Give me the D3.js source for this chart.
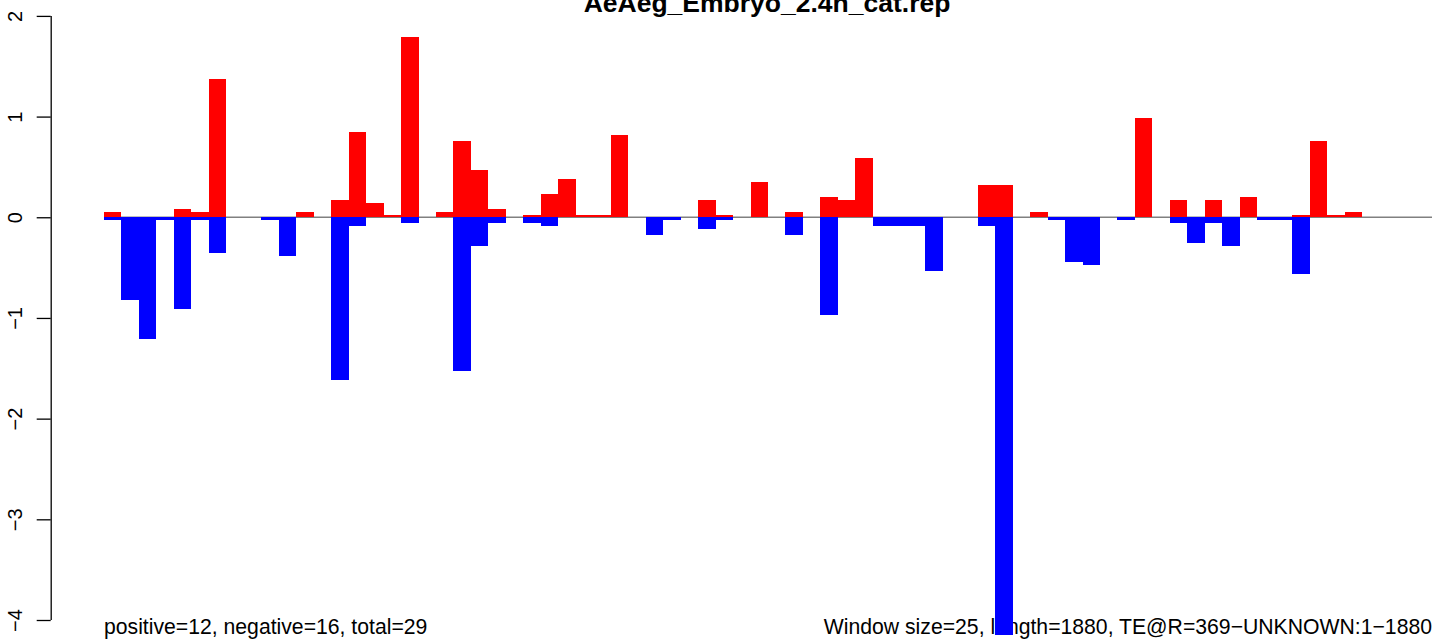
<!DOCTYPE html>
<html>
<head>
<meta charset="utf-8">
<script src="https://cdn.jsdelivr.net/npm/d3@7"></script>
<style>
  html, body { margin: 0; padding: 0; background: #fff; }
  svg { display: block; font-family: "Liberation Sans", Arial, Helvetica, sans-serif; }
</style>
</head>
<body>
<svg id="chart" width="1444" height="641"></svg>
<script>
// ---- data (window index, positive score, negative score) ----
const windows = d3.range(76);
const positiveValues = [
  0.05, 0, 0, 0, 0.08, 0.05, 1.37, 0, 0, 0,
  0, 0.05, 0, 0.17, 0.85, 0.14, 0.02, 1.79, 0, 0.05,
  0.76, 0.47, 0.08, 0, 0.02, 0.23, 0.38, 0.02, 0.02, 0.82,
  0, 0, 0, 0, 0.17, 0.02, 0, 0.35, 0, 0.05,
  0, 0.2, 0.17, 0.59, 0, 0, 0, 0, 0, 0,
  0.32, 0.32, 0, 0.05, 0, 0, 0, 0, 0, 0.99,
  0, 0.17, 0, 0.17, 0, 0.2, 0, 0, 0.02, 0.76,
  0.02, 0.05, 0, 0, 0, 0
];
const negativeValues = [
  -0.03, -0.82, -1.21, -0.03, -0.91, -0.03, -0.35, 0, 0, -0.03,
  -0.38, 0, 0, -1.62, -0.09, 0, 0, -0.06, 0, 0,
  -1.53, -0.29, -0.06, 0, -0.06, -0.09, 0, 0, 0, 0,
  0, -0.18, -0.03, 0, -0.12, -0.03, 0, 0, 0, -0.18,
  0, -0.97, 0, 0, -0.09, -0.09, -0.09, -0.53, 0, 0,
  -0.09, -4.15, 0, 0, -0.03, -0.44, -0.47, 0, -0.03, 0,
  0, -0.06, -0.26, -0.06, -0.29, 0, -0.03, -0.03, -0.56, 0,
  0, 0, 0, 0, 0, 0
];
const yTicks = [-4, -3, -2, -1, 0, 1, 2];
const titleText = "AeAeg_Embryo_2.4h_cat.rep";
const leftNote = "positive=12, negative=16, total=29";
const rightNote = "Window size=25, length=1880, TE@R=369\u2212UNKNOWN:1\u22121880";

// ---- layout ----
const svg = d3.select("#chart");
const x = d3.scaleLinear().domain([0, windows.length]).range([104, 1432]);
const y = d3.scaleLinear().domain([-4, 2]).range([620, 15.9]);

// title
svg.append("text")
  .attr("x", 767).attr("y", 12)
  .attr("text-anchor", "middle")
  .attr("font-weight", "bold")
  .attr("font-size", 26.5)
  .text(titleText);

// y axis
const yAxis = d3.axisLeft(y).tickValues(yTicks).tickSize(14).tickFormat(d => d < 0 ? "\u2212" + Math.abs(d) : String(d));
const gAxis = svg.append("g").attr("transform", "translate(50.7,0)").call(yAxis);
gAxis.select(".domain").attr("stroke", "#000").attr("stroke-width", 1.3)
  .attr("d", `M0.5,${y(-4)}V${y(2)}`);
gAxis.selectAll(".tick line").attr("stroke", "#000").attr("stroke-width", 1.3);
gAxis.selectAll(".tick text")
  .attr("font-size", 20)
  .attr("font-family", "\"Liberation Sans\", Arial, sans-serif")
  .attr("fill", "#000")
  .attr("x", null).attr("dy", null)
  .attr("text-anchor", "middle")
  .attr("transform", "translate(-36,0) rotate(-90)")
  .attr("dominant-baseline", "central");

// notes
svg.append("text")
  .attr("x", 104).attr("y", 634)
  .attr("font-size", 21.2)
  .text(leftNote);
svg.append("text")
  .attr("x", 1432).attr("y", 634)
  .attr("text-anchor", "end")
  .attr("font-size", 21.2)
  .text(rightNote);

// zero line
svg.append("line")
  .attr("x1", x(0)).attr("x2", x(windows.length))
  .attr("y1", y(0)).attr("y2", y(0))
  .attr("stroke", "#808080").attr("stroke-width", 1.3);

// bars
svg.append("g").attr("shape-rendering", "crispEdges").selectAll("rect.pos")
  .data(windows.filter(i => positiveValues[i] > 0))
  .join("rect")
  .attr("x", i => x(i)).attr("width", i => x(i + 1) - x(i))
  .attr("y", i => y(positiveValues[i])).attr("height", i => y(0) - y(positiveValues[i]))
  .attr("fill", "#ff0000");

svg.append("g").attr("shape-rendering", "crispEdges").selectAll("rect.neg")
  .data(windows.filter(i => negativeValues[i] < 0))
  .join("rect")
  .attr("x", i => x(i)).attr("width", i => x(i + 1) - x(i))
  .attr("y", y(0)).attr("height", i => y(negativeValues[i]) - y(0))
  .attr("fill", "#0000ff");
</script>
</body>
</html>
